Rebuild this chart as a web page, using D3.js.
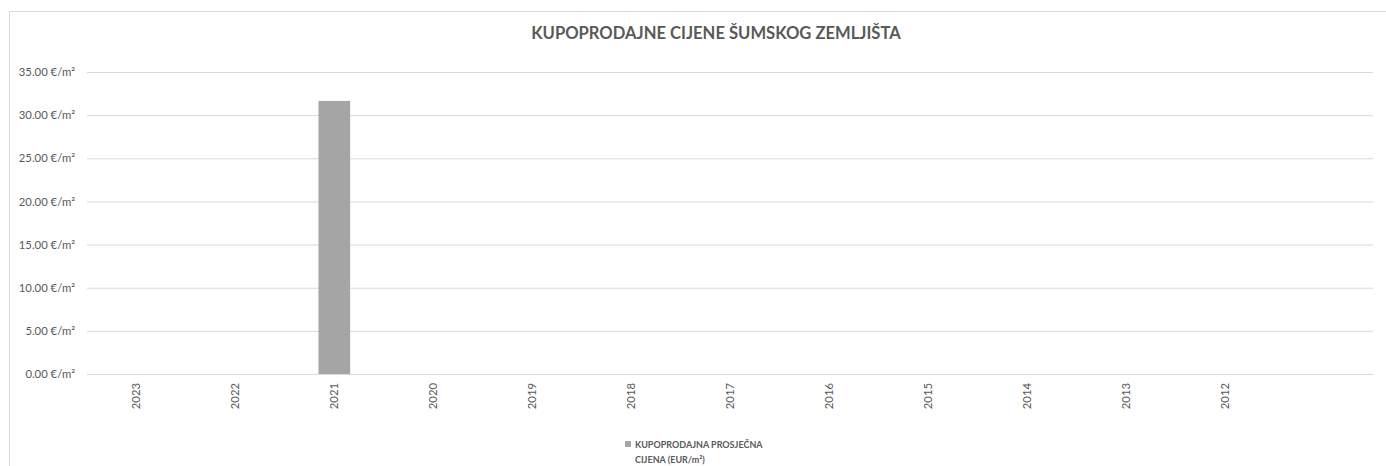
<!DOCTYPE html>
<html>
<head>
<meta charset="utf-8">
<script src="https://cdn.jsdelivr.net/npm/d3@7"></script>
<style>
  body { margin: 0; background: #fff; }
  svg { font-family: Lato, "Open Sans", sans-serif; }
</style>
</head>
<body>
<svg id="chart"></svg>
<script>
// data
const years = ['2023', '2022', '2021', '2020', '2019', '2018', '2017', '2016', '2015', '2014', '2013', '2012', ''];
const prices = [0, 0, 31.65, 0, 0, 0, 0, 0, 0, 0, 0, 0, 0];
const yTicks = [0, 5, 10, 15, 20, 25, 30, 35];
const title = 'KUPOPRODAJNE CIJENE ŠUMSKOG ZEMLJIŠTA';
const seriesName = ['KUPOPRODAJNA PROSJEČNA', 'CIJENA (EUR/m²)'];

const W = 1386, H = 466;
const M = { top: 72, right: 13, bottom: 92, left: 87 };
const TEXT = '#595959';

const svg = d3.select('#chart').attr('width', W).attr('height', H);

// chart frame
svg.append('rect')
    .attr('x', 9.5).attr('y', 11.5)
    .attr('width', W - 9).attr('height', H)
    .attr('fill', '#fff').attr('stroke', '#d9d9d9');

svg.append('text')
    .attr('x', 716).attr('y', 39)
    .attr('text-anchor', 'middle')
    .attr('font-size', 16.6).attr('font-weight', 'bold')
    .attr('fill', TEXT)
    .text(title);

const iw = W - M.left - M.right;
const ih = 374 - M.top;

const x = d3.scaleBand().domain(years).range([0, iw]).paddingInner(0.68).paddingOuter(0.34);
const y = d3.scaleLinear().domain([0, 35]).range([ih, 0]);

const g = svg.append('g').attr('transform', `translate(${M.left},${M.top})`);

// grid
g.append('g')
    .call(d3.axisLeft(y).tickValues(yTicks).tickSize(-iw).tickFormat(''))
    .call(a => a.select('.domain').remove())
    .call(a => a.selectAll('line').attr('stroke', '#d9d9d9'));

// y axis labels
g.append('g')
    .call(d3.axisLeft(y).tickValues(yTicks).tickSize(0).tickPadding(12)
        .tickFormat(d => d3.format('.2f')(d) + ' €/m²'))
    .call(a => a.select('.domain').remove())
    .call(a => a.selectAll('text').attr('fill', TEXT).attr('font-size', 11.3)
        .attr('font-family', 'Lato, sans-serif'));

// bars
g.selectAll('.bar').data(prices).join('rect')
    .attr('class', 'bar')
    .attr('x', (d, i) => x(years[i]))
    .attr('width', x.bandwidth())
    .attr('y', d => y(d))
    .attr('height', d => ih - y(d))
    .attr('fill', '#a5a5a5');

// x axis
const xa = d3.scaleBand().domain(years).range([0, iw]);
g.append('g')
    .attr('transform', `translate(0,${ih})`)
    .call(d3.axisBottom(xa).tickSize(0).tickPadding(0))
    .call(a => a.select('.domain').attr('stroke', '#d9d9d9'))
    .call(a => a.selectAll('text')
        .attr('fill', TEXT).attr('font-size', 11.3)
        .attr('font-family', 'Lato, sans-serif')
        .attr('text-anchor', 'end')
        .attr('dy', '0.35em')
        .attr('transform', 'translate(0,9) rotate(-90)'));

// legend
const lg = svg.append('g').attr('transform', 'translate(625,441)');
lg.append('rect').attr('width', 6).attr('height', 6).attr('fill', '#a5a5a5');
lg.selectAll('text').data(seriesName).join('text')
    .attr('x', 10).attr('y', (d, i) => 7 + i * 15)
    .attr('font-size', 9).attr('font-weight', 'bold')
    .attr('fill', TEXT)
    .text(d => d);
</script>
</body>
</html>
